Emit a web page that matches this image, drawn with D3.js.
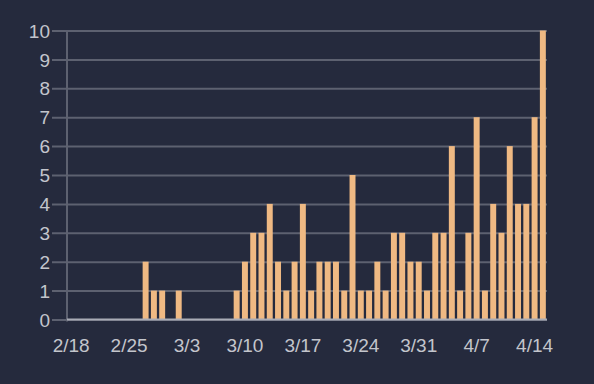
<!DOCTYPE html>
<html>
<head>
<meta charset="utf-8">
<script src="https://cdn.jsdelivr.net/npm/d3@7"></script>
<style>
  html, body { margin: 0; padding: 0; background: #252a3d; }
  svg { display: block; }
</style>
</head>
<body>
<svg id="chart" width="594" height="384"></svg>
<script>
// Daily counts, 2020-02-18 .. 2020-04-15
const startDate = "2020-02-18";
const endDate = "2020-04-16"; // exclusive
const values = [
  0, 0, 0, 0, 0, 0, 0, 0, 0, 2,
  1, 1, 0, 1, 0, 0, 0, 0, 0, 0,
  1, 2, 3, 3, 4, 2, 1, 2, 4, 1,
  2, 2, 2, 1, 5, 1, 1, 2, 1, 3,
  3, 2, 2, 1, 3, 3, 6, 1, 3, 7,
  1, 4, 3, 6, 4, 4, 7, 10
];
const yTicks = [0, 1, 2, 3, 4, 5, 6, 7, 8, 9, 10];
const xTickLabels = ["2/18", "2/25", "3/3", "3/10", "3/17", "3/24", "3/31", "4/7", "4/14"];

(function () {
const parse = d3.timeParse("%Y-%m-%d");
const fmt = d3.timeFormat("%-m/%-d");
const dates = d3.timeDay.range(parse(startDate), parse(endDate));
const data = dates.map((d, i) => ({ date: d, key: fmt(d), value: values[i] }));

const svg = d3.select("#chart");
const mLeft = 67, mRight = 547, mTop = 30.5, mBottom = 319.5;

const x = d3.scaleBand().domain(data.map(d => d.key)).range([mLeft, mRight]).paddingInner(0).paddingOuter(0);
const y = d3.scaleLinear().domain([0, 10]).range([mBottom, mTop]);

const gridColor = "#5d6170";
const textColor = "#c3c5cc";
const font = "'Liberation Sans', Arial, sans-serif";

// Y axis with gridlines
const yAxis = d3.axisLeft(y).tickValues(yTicks).tickSize(0).tickPadding(0);
const gy = svg.append("g").attr("transform", `translate(${mLeft},0)`).call(yAxis);
gy.select(".domain").remove();
gy.selectAll(".tick line").attr("stroke", gridColor).attr("stroke-width", 2).attr("x1", -15).attr("x2", mRight - mLeft);
gy.selectAll(".tick text").attr("fill", textColor).attr("font-size", 19).attr("font-family", font).attr("x", -17).attr("dy", "0.35em");

// vertical y-axis line
svg.append("line").attr("x1", mLeft).attr("x2", mLeft).attr("y1", mTop).attr("y2", mBottom + 2)
  .attr("stroke", gridColor).attr("stroke-width", 2);

// Bars
const bw = x.bandwidth() * 0.72;
svg.append("g").selectAll("rect").data(data.filter(d => d.value > 0)).join("rect")
  .attr("x", d => x(d.key) + (x.bandwidth() - bw) / 2)
  .attr("y", d => y(d.value))
  .attr("width", bw)
  .attr("height", d => y(0) - y(d.value))
  .attr("fill", "#efb983");

// X axis
const xAxis = d3.axisBottom(x).tickValues(xTickLabels).tickSize(0).tickPadding(19);
const gx = svg.append("g").attr("transform", `translate(0,${mBottom})`).call(xAxis);
gx.select(".domain").attr("stroke", "#a9acb6").attr("stroke-width", 2)
  .attr("d", `M${mLeft},0H${mRight}`);
gx.selectAll(".tick text").attr("fill", textColor).attr("font-size", 19).attr("font-family", font);
})();
</script>
</body>
</html>
